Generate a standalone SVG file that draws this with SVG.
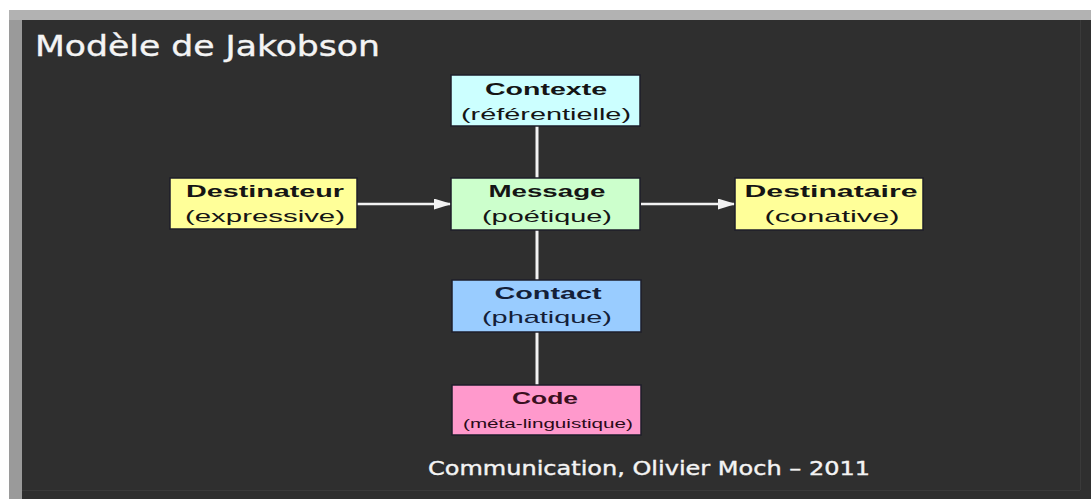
<svg xmlns="http://www.w3.org/2000/svg" width="1091" height="499" viewBox="0 0 1091 499">
<style>
.box{stroke:#1e1e2a;stroke-width:1.5}
.t1{font-family:"Liberation Sans",Arial,sans-serif;font-size:17px;font-weight:bold;fill:#151515;text-anchor:middle}
.t2{font-family:"Liberation Sans",Arial,sans-serif;font-size:17px;fill:#151515;text-anchor:middle}
.t3{font-family:"Liberation Sans",Arial,sans-serif;font-size:12px;fill:#2a0a18;text-anchor:middle}
.conn{stroke:#f2f2f2;stroke-width:3;fill:none}
.title{font-family:"DejaVu Sans",Verdana,sans-serif;fill:#f4f4f4}
</style>
<defs>
<marker id="arr" viewBox="0 0 10 10" refX="9" refY="5" markerWidth="18" markerHeight="11" markerUnits="userSpaceOnUse" orient="auto" preserveAspectRatio="none">
<path d="M0,0 L10,5 L0,10 z" fill="#f2f2f2"/>
</marker>
</defs>
<rect x="0" y="0" width="1091" height="499" fill="#ffffff"/>
<rect x="9" y="10" width="1082" height="489" fill="#9a9a9a"/>
<rect x="9" y="10" width="1082" height="10" fill="#b2b2b2"/>
<rect x="22" y="20" width="1069" height="479" fill="#2f2f2f"/>
<line x1="22" y1="490.5" x2="1080" y2="490.5" stroke="#3a3a3a" stroke-width="1"/>
<line x1="1080.5" y1="20" x2="1080.5" y2="490" stroke="#3a3a3a" stroke-width="1"/>
<text class="title" x="35" y="56" font-size="29" textLength="345" lengthAdjust="spacingAndGlyphs" style="stroke:#f4f4f4;stroke-width:0.4">Modèle de Jakobson</text>
<text class="title" x="428" y="475" font-size="20" textLength="442" lengthAdjust="spacingAndGlyphs" style="stroke:#f4f4f4;stroke-width:0.4">Communication, Olivier Moch – 2011</text>
<g id="connectors">
<line class="conn" x1="537" y1="126" x2="537" y2="178"/>
<line class="conn" x1="537" y1="230" x2="537" y2="280"/>
<line class="conn" x1="537" y1="332" x2="537" y2="385"/>
<line class="conn" x1="357" y1="204" x2="450" y2="204" marker-end="url(#arr)" style="stroke-width:2.5"/>
<line class="conn" x1="641" y1="204" x2="734" y2="204" marker-end="url(#arr)" style="stroke-width:2.5"/>
</g>
<g id="contexte">
<rect class="box" x="451" y="75" width="189" height="51" fill="#ccffff"/>
<text class="t1" x="546" y="95" textLength="122" lengthAdjust="spacingAndGlyphs">Contexte</text>
<text class="t2" x="546" y="120" textLength="170" lengthAdjust="spacingAndGlyphs">(référentielle)</text>
</g>
<g id="destinateur">
<rect class="box" x="170" y="178" width="187" height="51" fill="#ffff99"/>
<text class="t1" x="265" y="197" textLength="158" lengthAdjust="spacingAndGlyphs">Destinateur</text>
<text class="t2" x="265" y="222" textLength="160" lengthAdjust="spacingAndGlyphs">(expressive)</text>
</g>
<g id="message">
<rect class="box" x="451" y="178" width="189" height="52" fill="#ccffcc"/>
<text class="t1" x="547" y="197" textLength="117" lengthAdjust="spacingAndGlyphs">Message</text>
<text class="t2" x="547" y="222" textLength="130" lengthAdjust="spacingAndGlyphs">(poétique)</text>
</g>
<g id="destinataire">
<rect class="box" x="735" y="178" width="188" height="52" fill="#ffff99"/>
<text class="t1" x="831" y="197" textLength="173" lengthAdjust="spacingAndGlyphs">Destinataire</text>
<text class="t2" x="832" y="222" textLength="135" lengthAdjust="spacingAndGlyphs">(conative)</text>
</g>
<g id="contact">
<rect class="box" x="452" y="280" width="189" height="52" fill="#99ccff"/>
<text class="t1" x="548" y="299" textLength="107" lengthAdjust="spacingAndGlyphs" style="fill:#142038">Contact</text>
<text class="t2" x="547" y="323" textLength="130" lengthAdjust="spacingAndGlyphs" style="fill:#142038">(phatique)</text>
</g>
<g id="code">
<rect class="box" x="452" y="385" width="189" height="50" fill="#ff99cc"/>
<text class="t1" x="545" y="404" textLength="66" lengthAdjust="spacingAndGlyphs" style="fill:#3a1020">Code</text>
<text class="t3" x="548" y="428" textLength="170" lengthAdjust="spacingAndGlyphs">(méta-linguistique)</text>
</g>
</svg>
